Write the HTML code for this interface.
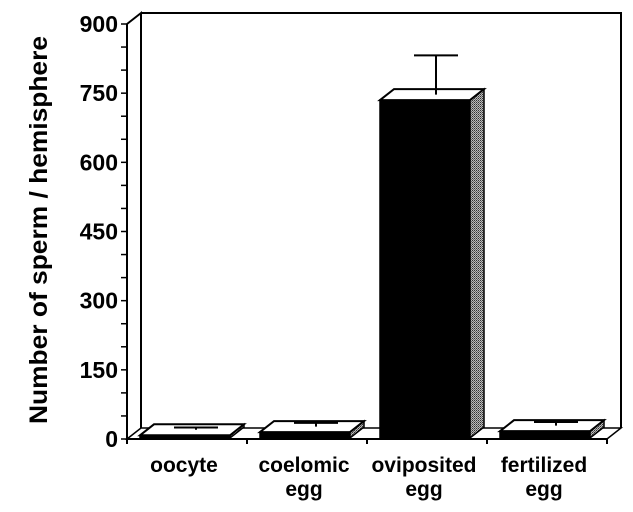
<!DOCTYPE html>
<html><head><meta charset="utf-8"><style>
html,body{margin:0;padding:0;background:#fff;}
svg{display:block;font-family:"Liberation Sans",Arial,sans-serif;font-weight:bold;}
</style></head><body>
<svg id="chart" width="633" height="512" viewBox="0 0 633 512">
<defs>
<pattern id="stip" width="2" height="2" patternUnits="userSpaceOnUse">
<rect width="2" height="2" fill="#bbb"/><rect width="1" height="1" fill="#333"/><rect x="1" y="1" width="1" height="1" fill="#666"/>
</pattern>
</defs>
<g id="frame"></g>
<g id="bars"></g>
<g id="axes"></g>
<text x="0" y="0" transform="translate(47,230) rotate(-90)" text-anchor="middle" font-size="25" textLength="388" lengthAdjust="spacingAndGlyphs">Number of sperm / hemisphere</text>
</svg>
<script>
const categories = ["oocyte", "coelomic|egg", "oviposited|egg", "fertilized|egg"];
const values = [8, 15, 735, 17];
const errors = [5, 8, 85, 8];
const yTicks = [0, 150, 300, 450, 600, 750, 900];

const NS = "http://www.w3.org/2000/svg";
const X0 = 127, X1 = 607, Y0 = 439, Y1 = 24, DX = 14, DY = -11, YMAX = 900;
const y = v => Y0 - (v / YMAX) * (Y0 - Y1);
const band = (X1 - X0) / categories.length;
const xc = i => X0 + band * (i + 0.5);
function mk(parent, tag, attrs) {
  const e = document.createElementNS(NS, tag);
  for (const k in attrs) e.setAttribute(k, attrs[k]);
  parent.appendChild(e); return e;
}
const frame = document.getElementById("frame");
const barsG = document.getElementById("bars");
const axes = document.getElementById("axes");

const wall = mk(frame, "path", {d:`M${X0+DX},${Y1+DY} L${X1+DX},${Y1+DY} L${X1+DX},${Y0+DY} M${X0},${Y1} L${X0+DX},${Y1+DY} L${X0+DX},${Y0+DY}`, fill:"none", stroke:"#000", "stroke-width":2});


const floor = mk(frame, "path", {d:`M${X0},${Y0} L${X1},${Y0} L${X1+DX},${Y0+DY} L${X0+DX},${Y0+DY} Z`, fill:"#fff", stroke:"#000", "stroke-width":1.5});



categories.forEach((c, i) => {
  const bw = 90, l = xc(i) - 47, r = l + bw, t = y(values[i]), b = Y0 - 1;
  const g = mk(barsG, "g", {});
  
  
  mk(g, "rect", {x:l, y:t, width:bw, height:Math.max(b - t, 0.5), fill:"#000", stroke:"#000", "stroke-width":1.5});
  mk(g, "path", {d:`M${r},${t} L${r+DX},${t+DY} L${r+DX},${b+DY} L${r},${b} Z`, fill:"url(#stip)", stroke:"#000", "stroke-width":1.5});
  mk(g, "path", {d:`M${l},${t} L${l+DX},${t+DY} L${r+DX},${t+DY} L${r},${t} Z`, fill:"#fff", stroke:"#000", "stroke-width":2});
  const ex = (l + r) / 2 + DX / 2 + 4, ey0 = t + DY / 2, ey1 = y(values[i] + errors[i]) + DY / 2;
  const e = mk(g, "path", {d:`M${ex},${ey0} L${ex},${ey1} M${ex-22},${ey1} L${ex+22},${ey1}`, stroke:"#000", "stroke-width":2, fill:"none"});
  
  
  const lines = c.split('|');
  lines.forEach((s, k) => {
    const tx = mk(axes, "text", {x:xc(i) - 3, y:472 + k * 24, "text-anchor":"middle", "font-size":21});
    tx.textContent = s;
    
    
  });
});

const ya = mk(axes, "line", {x1:X0, y1:Y1, x2:X0, y2:Y0, stroke:"#000", "stroke-width":2});


const xa = mk(axes, "line", {x1:X0, y1:Y0, x2:X1, y2:Y0, stroke:"#000", "stroke-width":2});


for (let i = 0; i <= categories.length; i++) {
  const xt = X0 + band * i;
  mk(axes, "line", {x1:xt, y1:Y0, x2:xt, y2:Y0 + 5, stroke:"#000", "stroke-width":2});
}
for (let v = 0; v <= YMAX; v += 50) {
  mk(axes, "line", {x1:X0 - 6, y1:y(v), x2:X0, y2:y(v), stroke:"#000", "stroke-width":1.5});
}
yTicks.forEach(v => {
  const t = mk(axes, "text", {x:X0 - 9, y:y(v) + 8, "text-anchor":"end", "font-size":23});
  t.textContent = v;
  
  
});
</script>
</body></html>
